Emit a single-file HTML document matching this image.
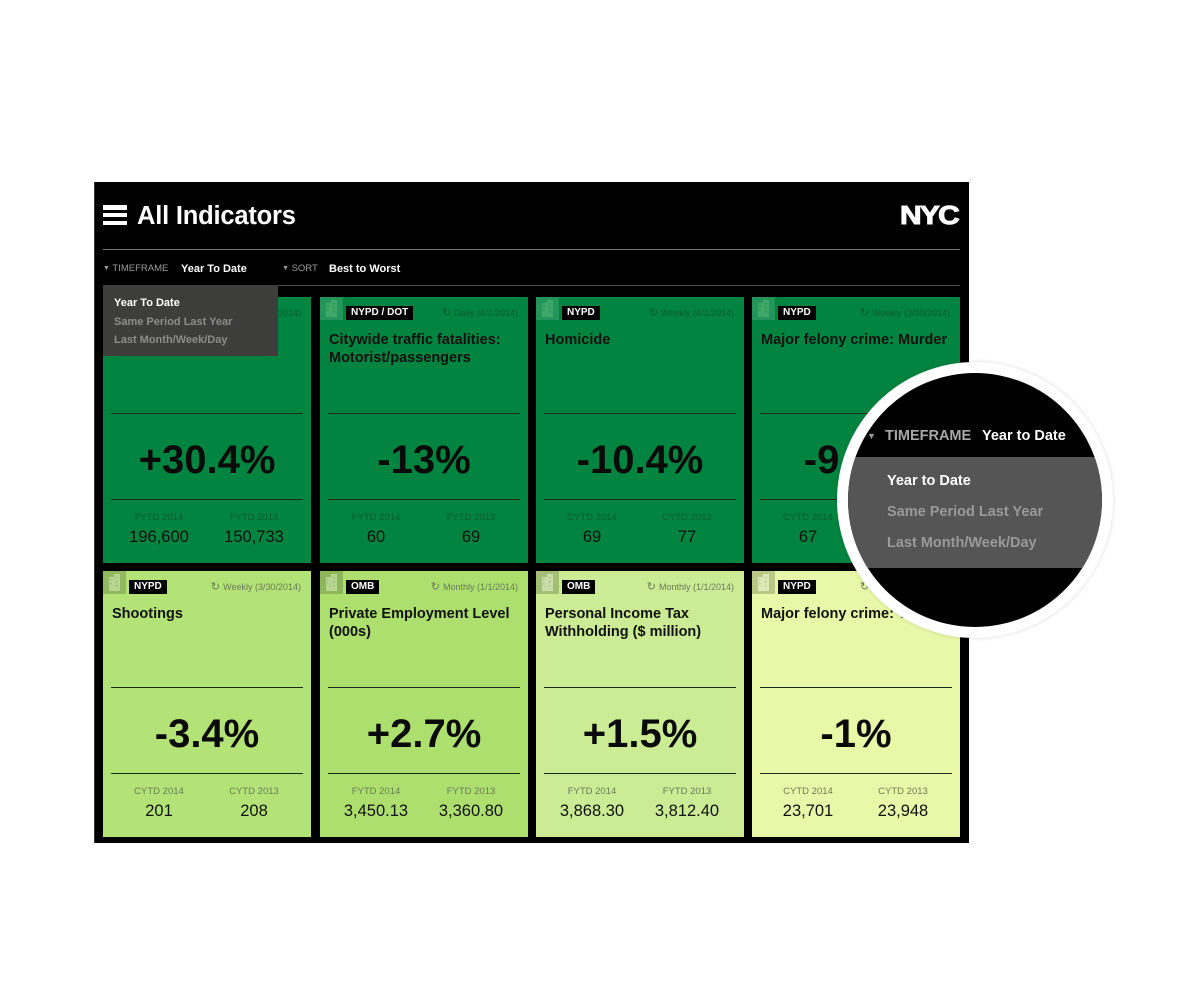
<!DOCTYPE html>
<html><head><meta charset="utf-8">
<style>
*{margin:0;padding:0;box-sizing:border-box}
html,body{width:1200px;height:1000px;background:#fff;overflow:hidden}
body{position:relative;font-family:"Liberation Sans",Arial,sans-serif}
.abs{position:absolute}
#panel{position:absolute;left:94px;top:182px;width:875px;height:661px;background:#000;border-left:1px solid #3a3a3a}
.ham{position:absolute;left:103px;width:24px;height:4.5px;background:#fff}
.card{position:absolute;width:208px;height:266px;overflow:hidden}
.icon{position:absolute;left:0;top:0;width:23px;height:23px}
.dk .icon{background:rgba(255,255,255,0.14)}
.lt .icon{background:rgba(60,80,40,0.28)}
.icon svg{position:absolute;left:5px;top:3px}
.badge{position:absolute;left:26px;top:9px;height:14px;line-height:14px;padding:0 5px;background:#000;color:#fff;font-weight:bold;font-size:10px;white-space:nowrap}
.date{position:absolute;right:10px;top:9px;line-height:14px;font-size:9px;white-space:nowrap}
.date .r{font-family:"DejaVu Sans",sans-serif;font-size:11px;margin-right:3px}
.dk .date,.dk .lab{color:#0c5a2c}
.lt .date,.lt .lab{color:#6b7a5a}
.title{position:absolute;left:9px;top:34px;width:195px;font-weight:bold;font-size:14.5px;line-height:18px;color:#111}
.ln{position:absolute;left:8px;right:8px;height:1px;background:#1b2a1b}
.big{position:absolute;left:0;right:0;top:143px;text-align:center;font-weight:bold;font-size:40px;line-height:40px;color:#0a0a0a;white-space:nowrap}
.lab{position:absolute;top:215px;width:96px;text-align:center;font-size:9.5px;line-height:12px}
.val{position:absolute;top:230px;width:96px;text-align:center;font-size:16.5px;line-height:20px;color:#111}
.c1{left:8px}.c2{left:103px}
.dd{position:absolute;left:11px;font-weight:bold;font-size:11px;line-height:14px;white-space:nowrap}
.ci{position:absolute;font-weight:bold;font-size:14.5px;line-height:18px;white-space:nowrap}
</style></head><body>

<div id="panel"></div>
<div class="ham" style="top:205px"></div>
<div class="ham" style="top:212.5px"></div>
<div class="ham" style="top:220.5px"></div>
<div class="abs" style="left:137px;top:201px;font-weight:bold;font-size:25.5px;line-height:30px;color:#fff;letter-spacing:-0.2px">All Indicators</div>
<div class="abs" style="left:900px;top:201px;font-weight:900;font-size:26px;line-height:28px;color:#fff;letter-spacing:-1.5px;transform:scale(1.15,1.0);transform-origin:left center;-webkit-text-stroke:1px #fff">NYC</div>
<div class="abs" style="left:103px;top:249px;width:857px;height:1px;background:#7a7a7a"></div>
<div class="abs" style="left:103px;top:285px;width:857px;height:1px;background:#4a4a4a"></div>

<div class="abs" style="left:103px;top:262px;font-size:9.5px;line-height:14px;color:#9a9a9a;white-space:nowrap"><span style="font-size:7px;vertical-align:1px">▼</span> TIMEFRAME</div>
<div class="abs" style="left:181px;top:262px;font-weight:bold;font-size:11px;line-height:14px;color:#fff">Year To Date</div>
<div class="abs" style="left:282px;top:262px;font-size:9.5px;line-height:14px;color:#9a9a9a;white-space:nowrap"><span style="font-size:7px;vertical-align:1px">▼</span> SORT</div>
<div class="abs" style="left:329px;top:262px;font-weight:bold;font-size:11px;line-height:14px;color:#fff">Best to Worst</div>

<!-- Row 1 -->
<div class="card dk" style="left:103px;top:297px;background:#00843f">
  <div class="icon"><svg width="13" height="17" viewBox="0 0 13 17"><rect x="1" y="3" width="6" height="14" fill="#3fa869"/><rect x="6" y="0" width="6" height="17" fill="#3fa869"/><g fill="#1c8e4c"><rect x="2" y="5" width="1.5" height="1.5"/><rect x="2" y="9" width="1.5" height="1.5"/><rect x="8" y="3" width="1.5" height="1.5"/><rect x="8" y="7" width="1.5" height="1.5"/><rect x="8" y="11" width="1.5" height="1.5"/></g></svg></div>
  <div class="badge">NYPD</div>
  <div class="date"><span class="r">↻</span>Weekly (4/1/2014)</div>
  <div class="ln" style="top:116px"></div>
  <div class="big">+30.4%</div>
  <div class="ln" style="top:202px"></div>
  <div class="lab c1">FYTD 2014</div><div class="lab c2">FYTD 2013</div>
  <div class="val c1">196,600</div><div class="val c2">150,733</div>
</div>
<div class="card dk" style="left:320px;top:297px;background:#00843f">
  <div class="icon"><svg width="13" height="17" viewBox="0 0 13 17"><rect x="1" y="3" width="6" height="14" fill="#3fa869"/><rect x="6" y="0" width="6" height="17" fill="#3fa869"/><g fill="#1c8e4c"><rect x="2" y="5" width="1.5" height="1.5"/><rect x="2" y="9" width="1.5" height="1.5"/><rect x="8" y="3" width="1.5" height="1.5"/><rect x="8" y="7" width="1.5" height="1.5"/><rect x="8" y="11" width="1.5" height="1.5"/></g></svg></div>
  <div class="badge">NYPD / DOT</div>
  <div class="date"><span class="r">↻</span>Daily (4/1/2014)</div>
  <div class="title">Citywide traffic fatalities: Motorist/passengers</div>
  <div class="ln" style="top:116px"></div>
  <div class="big">-13%</div>
  <div class="ln" style="top:202px"></div>
  <div class="lab c1">FYTD 2014</div><div class="lab c2">FYTD 2013</div>
  <div class="val c1">60</div><div class="val c2">69</div>
</div>
<div class="card dk" style="left:536px;top:297px;background:#00843f">
  <div class="icon"><svg width="13" height="17" viewBox="0 0 13 17"><rect x="1" y="3" width="6" height="14" fill="#3fa869"/><rect x="6" y="0" width="6" height="17" fill="#3fa869"/><g fill="#1c8e4c"><rect x="2" y="5" width="1.5" height="1.5"/><rect x="2" y="9" width="1.5" height="1.5"/><rect x="8" y="3" width="1.5" height="1.5"/><rect x="8" y="7" width="1.5" height="1.5"/><rect x="8" y="11" width="1.5" height="1.5"/></g></svg></div>
  <div class="badge">NYPD</div>
  <div class="date"><span class="r">↻</span>Weekly (4/1/2014)</div>
  <div class="title">Homicide</div>
  <div class="ln" style="top:116px"></div>
  <div class="big">-10.4%</div>
  <div class="ln" style="top:202px"></div>
  <div class="lab c1">CYTD 2014</div><div class="lab c2">CYTD 2013</div>
  <div class="val c1">69</div><div class="val c2">77</div>
</div>
<div class="card dk" style="left:752px;top:297px;background:#00843f">
  <div class="icon"><svg width="13" height="17" viewBox="0 0 13 17"><rect x="1" y="3" width="6" height="14" fill="#3fa869"/><rect x="6" y="0" width="6" height="17" fill="#3fa869"/><g fill="#1c8e4c"><rect x="2" y="5" width="1.5" height="1.5"/><rect x="2" y="9" width="1.5" height="1.5"/><rect x="8" y="3" width="1.5" height="1.5"/><rect x="8" y="7" width="1.5" height="1.5"/><rect x="8" y="11" width="1.5" height="1.5"/></g></svg></div>
  <div class="badge">NYPD</div>
  <div class="date"><span class="r">↻</span>Weekly (3/30/2014)</div>
  <div class="title">Major felony crime: Murder</div>
  <div class="ln" style="top:116px"></div>
  <div class="big">-9.1%</div>
  <div class="ln" style="top:202px"></div>
  <div class="lab c1">CYTD 2014</div><div class="lab c2">CYTD 2013</div>
  <div class="val c1">67</div><div class="val c2">74</div>
</div>

<!-- Row 2 -->
<div class="card lt" style="left:103px;top:571px;background:#b3e276">
  <div class="icon"><svg width="13" height="17" viewBox="0 0 13 17"><rect x="1" y="3" width="6" height="14" fill="#b9d592"/><rect x="6" y="0" width="6" height="17" fill="#b9d592"/><g fill="#98b874"><rect x="2" y="5" width="1.5" height="1.5"/><rect x="2" y="9" width="1.5" height="1.5"/><rect x="8" y="3" width="1.5" height="1.5"/><rect x="8" y="7" width="1.5" height="1.5"/><rect x="8" y="11" width="1.5" height="1.5"/></g></svg></div>
  <div class="badge">NYPD</div>
  <div class="date"><span class="r">↻</span>Weekly (3/30/2014)</div>
  <div class="title">Shootings</div>
  <div class="ln" style="top:116px"></div>
  <div class="big">-3.4%</div>
  <div class="ln" style="top:202px"></div>
  <div class="lab c1">CYTD 2014</div><div class="lab c2">CYTD 2013</div>
  <div class="val c1">201</div><div class="val c2">208</div>
</div>
<div class="card lt" style="left:320px;top:571px;background:#addf6e">
  <div class="icon"><svg width="13" height="17" viewBox="0 0 13 17"><rect x="1" y="3" width="6" height="14" fill="#b9d592"/><rect x="6" y="0" width="6" height="17" fill="#b9d592"/><g fill="#98b874"><rect x="2" y="5" width="1.5" height="1.5"/><rect x="2" y="9" width="1.5" height="1.5"/><rect x="8" y="3" width="1.5" height="1.5"/><rect x="8" y="7" width="1.5" height="1.5"/><rect x="8" y="11" width="1.5" height="1.5"/></g></svg></div>
  <div class="badge">OMB</div>
  <div class="date"><span class="r">↻</span>Monthly (1/1/2014)</div>
  <div class="title">Private Employment Level (000s)</div>
  <div class="ln" style="top:116px"></div>
  <div class="big">+2.7%</div>
  <div class="ln" style="top:202px"></div>
  <div class="lab c1">FYTD 2014</div><div class="lab c2">FYTD 2013</div>
  <div class="val c1">3,450.13</div><div class="val c2">3,360.80</div>
</div>
<div class="card lt" style="left:536px;top:571px;background:#cbeb95">
  <div class="icon"><svg width="13" height="17" viewBox="0 0 13 17"><rect x="1" y="3" width="6" height="14" fill="#c9deaa"/><rect x="6" y="0" width="6" height="17" fill="#c9deaa"/><g fill="#a8c088"><rect x="2" y="5" width="1.5" height="1.5"/><rect x="2" y="9" width="1.5" height="1.5"/><rect x="8" y="3" width="1.5" height="1.5"/><rect x="8" y="7" width="1.5" height="1.5"/><rect x="8" y="11" width="1.5" height="1.5"/></g></svg></div>
  <div class="badge">OMB</div>
  <div class="date"><span class="r">↻</span>Monthly (1/1/2014)</div>
  <div class="title">Personal Income Tax Withholding ($ million)</div>
  <div class="ln" style="top:116px"></div>
  <div class="big">+1.5%</div>
  <div class="ln" style="top:202px"></div>
  <div class="lab c1">FYTD 2014</div><div class="lab c2">FYTD 2013</div>
  <div class="val c1">3,868.30</div><div class="val c2">3,812.40</div>
</div>
<div class="card lt" style="left:752px;top:571px;background:#e9f7a8">
  <div class="icon"><svg width="13" height="17" viewBox="0 0 13 17"><rect x="1" y="3" width="6" height="14" fill="#dfe8b8"/><rect x="6" y="0" width="6" height="17" fill="#dfe8b8"/><g fill="#bcc894"><rect x="2" y="5" width="1.5" height="1.5"/><rect x="2" y="9" width="1.5" height="1.5"/><rect x="8" y="3" width="1.5" height="1.5"/><rect x="8" y="7" width="1.5" height="1.5"/><rect x="8" y="11" width="1.5" height="1.5"/></g></svg></div>
  <div class="badge">NYPD</div>
  <div class="date"><span class="r">↻</span>Weekly (3/30/2014)</div>
  <div class="title">Major felony crime: Total</div>
  <div class="ln" style="top:116px"></div>
  <div class="big">-1%</div>
  <div class="ln" style="top:202px"></div>
  <div class="lab c1">CYTD 2014</div><div class="lab c2">CYTD 2013</div>
  <div class="val c1">23,701</div><div class="val c2">23,948</div>
</div>

<!-- Dropdown -->
<div class="abs" style="left:103px;top:285px;width:175px;height:71px;background:#3d3d3b">
  <div class="dd" style="top:11px;color:#fff">Year To Date</div>
  <div class="dd" style="top:30px;color:#8d8d88">Same Period Last Year</div>
  <div class="dd" style="top:48px;color:#8d8d88">Last Month/Week/Day</div>
</div>

<!-- Magnifier circle -->
<div class="abs" style="left:837px;top:362px;width:276px;height:276px;border-radius:50%;background:#fff;box-shadow:0 0 4px rgba(0,0,0,0.15)">
  <div class="abs" style="left:11px;top:11px;width:254px;height:254px;border-radius:50%;background:#000;overflow:hidden">
    <div class="abs" style="left:0;top:84px;width:254px;height:111px;background:#555555"></div>
    <div class="ci" style="left:19px;top:54px;color:#9a9a9a;font-size:9px">▼</div>
    <div class="ci" style="left:37px;top:54px;color:#a8a8a8">TIMEFRAME</div>
    <div class="ci" style="left:134px;top:54px;color:#fff">Year to Date</div>
    <div class="ci" style="left:39px;top:99px;color:#fff">Year to Date</div>
    <div class="ci" style="left:39px;top:130px;color:#9a9a9a">Same Period Last Year</div>
    <div class="ci" style="left:39px;top:161px;color:#9a9a9a">Last Month/Week/Day</div>
  </div>
</div>

</body></html>
